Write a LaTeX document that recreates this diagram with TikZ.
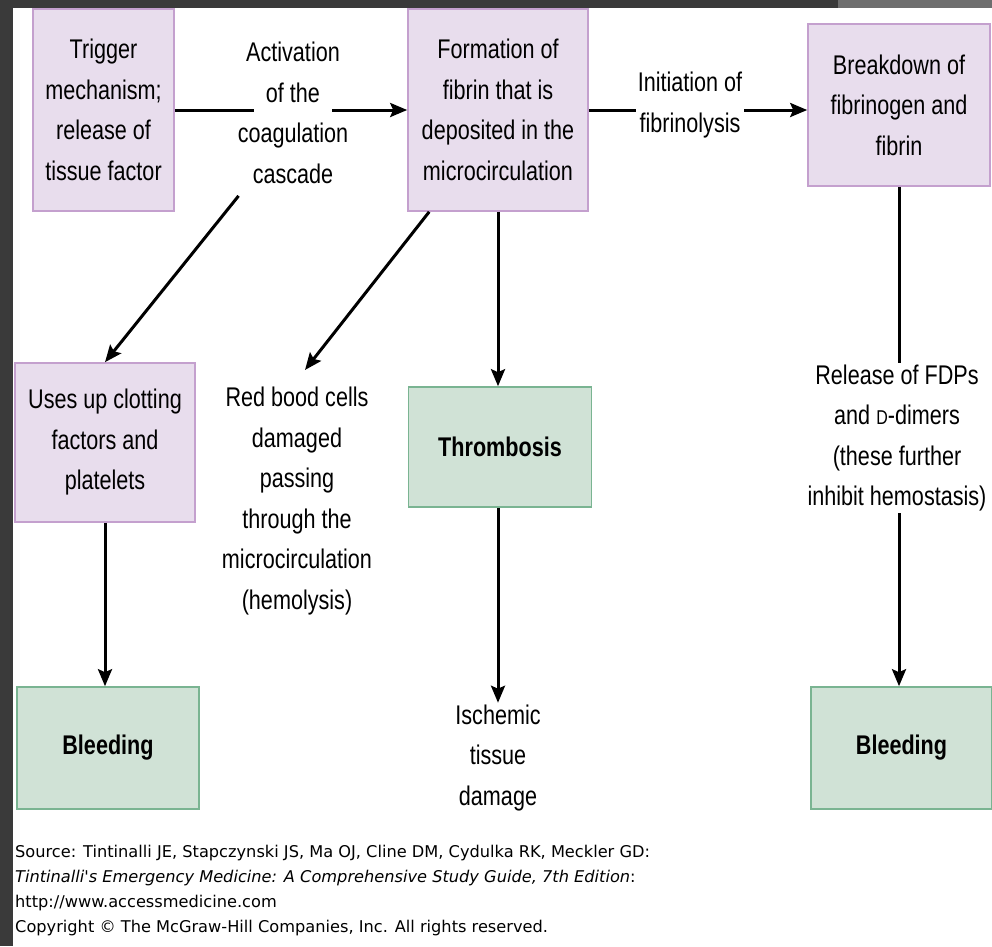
\documentclass[tikz,border=0pt]{standalone}
\usepackage{fontspec}
\setmainfont{Liberation Sans}[FakeStretch=0.8]
\newfontfamily\srcfont{DejaVu Sans}
\usetikzlibrary{arrows.meta}
\definecolor{frame}{HTML}{3A3A3A}
\definecolor{strip}{HTML}{6E6E6E}
\definecolor{lilac}{RGB}{232,221,237}
\definecolor{lilacline}{RGB}{196,160,206}
\definecolor{sage}{RGB}{208,226,214}
\definecolor{sageline}{RGB}{122,180,146}
\begin{document}
\begin{tikzpicture}[x=1pt, y=-1pt,
  txt/.style={align=center, inner sep=2pt, font=\fontsize{27}{40.5}\selectfont},
  pbox/.style={txt, draw=lilacline, fill=lilac, line width=1.6pt},
  gbox/.style={pbox, draw=sageline, fill=sage, font=\fontsize{27}{40.5}\selectfont\bfseries},
  arr/.style={line width=3pt, -{Stealth[length=17pt, width=14pt, inset=3pt]}}]
\useasboundingbox (0,0) rectangle (992,946);
\fill[white] (13,8) rectangle (992,946);
\fill[frame] (0,0) rectangle (992,8);
\fill[frame] (0,0) rectangle (13,946);
\fill[strip] (838,0) rectangle (992,8);

\node[pbox, minimum width=141pt, minimum height=202pt] (trig) at (103.5,110) {Trigger\\mechanism;\\release of\\tissue factor};
\node[pbox, minimum width=180pt, minimum height=202pt] (form) at (498,110) {Formation of\\fibrin that is\\deposited in the\\microcirculation};
\node[pbox, minimum width=182pt, minimum height=162pt] (brk) at (899,105) {Breakdown of\\fibrinogen and\\fibrin};
\node[pbox, minimum width=180pt, minimum height=159pt] (uses) at (105,442.5) {Uses up clotting\\factors and\\platelets};
\node[gbox, minimum width=183pt, minimum height=120pt] (thr) at (500,447) {Thrombosis};
\node[gbox, minimum width=182pt, minimum height=122pt] (bl1) at (108,748) {Bleeding};
\node[gbox, minimum width=181pt, minimum height=122pt] (bl2) at (901.5,748) {Bleeding};

\node[txt] (rbc) at (297,501) {Red bood cells\\damaged\\passing\\through the\\microcirculation\\(hemolysis)};
\node[txt] (isch) at (498,758) {Ischemic\\tissue\\damage};

\draw[arr] (trig) -- (form);
\draw[arr] (form.east) -- (form.east -| brk.west);
\draw[arr] (form.south) -- (form.south |- thr.north);
\draw[arr] (isch.north |- thr.south) -- (isch.north);
\draw[arr] (uses.south) -- (uses.south |- bl1.north);
\draw[arr] (brk.south) -- (brk.south |- bl2.north);
\draw[arr] ([xshift=22pt]form.south west) -- ([xshift=8pt, yshift=15pt]rbc.north);

\node[fill=white, minimum width=78pt, minimum height=24pt, inner sep=0pt] (actgap) at (293,110) {};
\node[txt] (act) at (293,113) {Activation\\of the\\coagulation\\cascade};
\draw[arr] ([xshift=3pt, yshift=-10pt]act.south west) -- (uses.north);
\node[txt, fill=white] (init) at (690,105) {Initiation of\\fibrinolysis};
\node[txt, fill=white] (rel) at (897,438) {Release of FDPs\\and {\fontsize{20}{24}\selectfont D}-dimers\\(these further\\inhibit hemostasis)};

\node[anchor=north west, align=left, inner sep=0pt, font=\srcfont\fontsize{16.2}{25}\selectfont] (src) at (15,845) {Source: Tintinalli JE, Stapczynski JS, Ma OJ, Cline DM, Cydulka RK, Meckler GD:\\\textit{Tintinalli's Emergency Medicine: A Comprehensive Study Guide, 7th Edition}:\\http://www.accessmedicine.com\\Copyright © The McGraw-Hill Companies, Inc. All rights reserved.};
\end{tikzpicture}
\end{document}
